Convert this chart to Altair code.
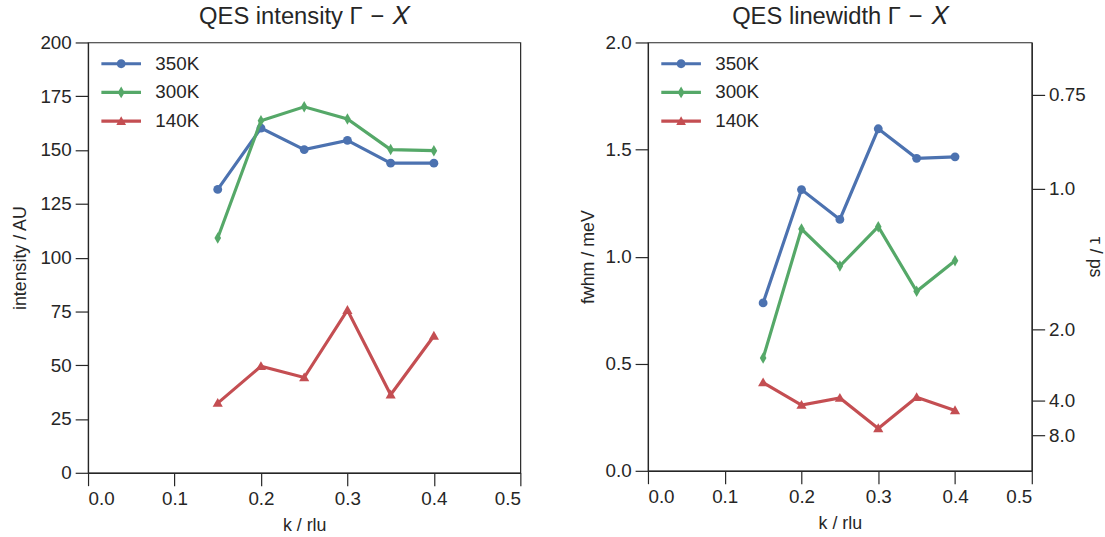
import altair as alt
import pandas as pd

# Wavevector along Gamma-X (rlu)
k = [0.15, 0.20, 0.25, 0.30, 0.35, 0.40]
temps = ["350K", "300K", "140K"]
colors = ["#4C72B0", "#55A868", "#C44E52"]

# QES integrated intensity (arbitrary units)
intensity_350 = [131.7, 160.2, 150.2, 154.5, 143.9, 143.9]
intensity_300 = [109.1, 163.6, 170.1, 164.4, 150.2, 149.7]
intensity_140 = [32.4, 49.5, 44.3, 75.6, 36.3, 63.6]

# QES linewidth (meV)
fwhm_350 = [0.784, 1.313, 1.174, 1.597, 1.459, 1.466]
fwhm_300 = [0.527, 1.129, 0.956, 1.140, 0.838, 0.981]
fwhm_140 = [0.412, 0.307, 0.340, 0.198, 0.343, 0.282]

# relaxation time ticks for the secondary axis, tau = 2*hbar / fwhm
tau_ticks = [0.75, 1.0, 2.0, 4.0, 8.0]
HBAR2 = 2 * 0.6582119569  # meV * ps

FONT = "Liberation Sans, DejaVu Sans, sans-serif"
INK = "#262626"
SP = "\u2004"  # slightly wider space around the minus sign

# marker shapes for the data points
marker_shapes = {
    "350K": "circle",
    "300K": "M0,-1.3L0.75,0L0,1.3L-0.75,0Z",
    "140K": "M0,-1.15L1.15,0.85L-1.15,0.85Z",
}
# legend glyphs: a line segment with the marker in the middle
LINE = "M-2.86,-0.23L2.86,-0.23L2.86,0.23L-2.86,0.23Z"
legend_glyphs = [
    LINE + "M0.64,0A0.64,0.64 0 1,1 -0.64,0A0.64,0.64 0 1,1 0.64,0Z",
    LINE + "M0,-0.85L0.5,0L0,0.85L-0.5,0Z",
    LINE + "M0,-0.7L0.7,0.55L-0.7,0.55Z",
]


def long_frame(series):
    rows = []
    for t, vals in zip(temps, series):
        for kk, v in zip(k, vals):
            rows.append({"k": kk, "value": v, "T": t})
    return pd.DataFrame(rows)


def x_enc():
    return alt.X("k:Q", scale=alt.Scale(domain=[0, 0.5], nice=False),
                 axis=alt.Axis(values=[0.0, 0.1, 0.2, 0.3, 0.4, 0.5], format=".1f",
                               title="k / rlu"))


def panel(df, title, y_title, y_domain, y_values, y_fmt, y_pad, width, height,
          extra=None):
    x = x_enc()
    y = alt.Y("value:Q", scale=alt.Scale(domain=y_domain, nice=False, zero=False),
              axis=alt.Axis(values=y_values, title=y_title, format=y_fmt,
                            titlePadding=y_pad))

    layers = []
    for t, c in zip(temps, colors):
        sub = alt.Chart(df).transform_filter(alt.datum.T == t)
        layers.append(sub.mark_line(strokeWidth=3.2, color=c).encode(x=x, y=y))
        layers.append(
            sub.mark_point(filled=True, shape=marker_shapes[t], size=80,
                           color=c, opacity=1, strokeWidth=0)
            .encode(x=x, y=y)
        )
    legend = alt.Chart(df).transform_filter("false").mark_point(
        filled=True, opacity=1, strokeWidth=0
    ).encode(
        x=x, y=y,
        fill=alt.Fill("T:N", scale=alt.Scale(domain=temps, range=colors),
                      legend=alt.Legend(title=None)),
        shape=alt.Shape("T:N", scale=alt.Scale(domain=temps, range=legend_glyphs),
                        legend=alt.Legend(title=None)),
    )
    layers.append(legend)
    main = alt.layer(*layers)
    if extra is not None:
        main = alt.layer(main, extra).resolve_scale(y="independent")
    return main.properties(
        width=width, height=height,
        title=alt.TitleParams(title, fontSize=24, font=FONT, fontWeight="normal",
                              color=INK, offset=5),
    )


int_df = long_frame([intensity_350, intensity_300, intensity_140])
fw_df = long_frame([fwhm_350, fwhm_300, fwhm_140])

tau_positions = [HBAR2 / t for t in tau_ticks]
tau_axis = alt.Chart(fw_df).mark_point(opacity=0).encode(
    x=x_enc(),
    y=alt.Y("value:Q", scale=alt.Scale(domain=[0, 2], nice=False),
            axis=alt.Axis(orient="right", values=tau_positions, title="τ / ps",
                          titleAngle=90, titlePadding=0,
                          labelExpr=f"format({HBAR2}/datum.value, datum.value > 1.5 ? '.2f' : '.1f')")),
)

left = panel(int_df, f"QES intensity Γ{SP}−{SP}𝑋", "intensity / AU", [0, 200],
             [0, 25, 50, 75, 100, 125, 150, 175, 200], "d", 11, 437, 435)
right = panel(fw_df, f"QES linewidth Γ{SP}−{SP}𝑋", "fwhm / meV", [0, 2],
              [0.0, 0.5, 1.0, 1.5, 2.0], ".1f", 8, 388, 433, extra=tau_axis)

chart = alt.hconcat(left, right, spacing=56).resolve_scale(
    fill="independent", shape="independent"
).resolve_legend(
    fill="independent", shape="independent"
).properties(
    padding={"left": 10, "top": 1, "right": 1, "bottom": 2},
).configure_view(
    stroke=INK, strokeWidth=1.2,
).configure_axis(
    grid=False, domainColor=INK, domainWidth=1.2, tickColor=INK, tickWidth=1.2,
    tickSize=13, labelFont=FONT, labelFontSize=19, labelColor=INK, labelPadding=4,
    titleFont=FONT, titleFontSize=18, titleColor=INK, titleFontWeight="normal",
    titlePadding=8,
).configure_legend(
    orient="none", legendX=24, legendY=12, symbolSize=196, labelFont=FONT,
    labelFontSize=19, labelColor=INK, labelOffset=25, rowPadding=9,
    padding=0, symbolStrokeWidth=0,
)

chart.save("out.html", embed_options={"renderer": "svg", "actions": False})
